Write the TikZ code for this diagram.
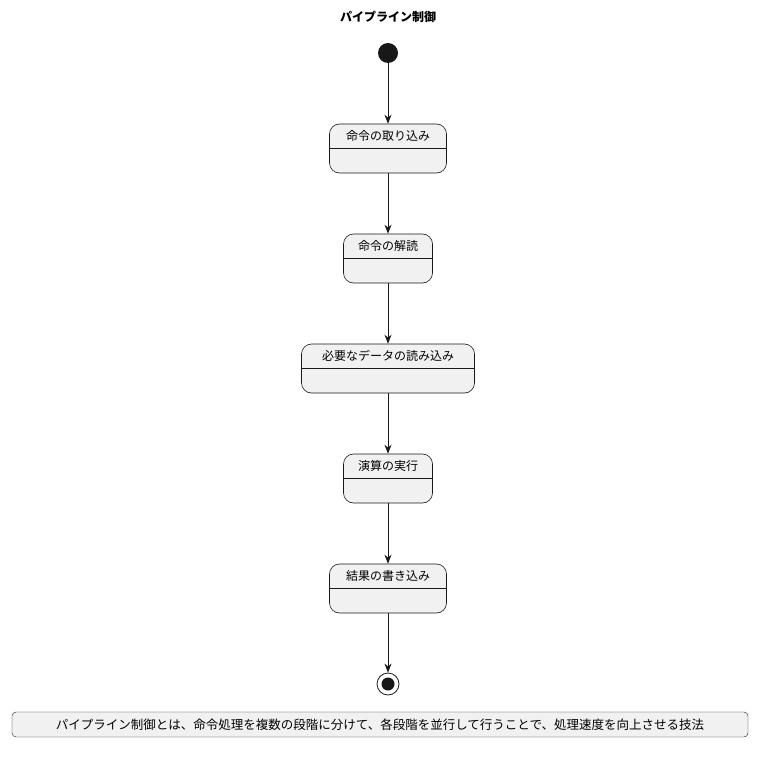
\documentclass[tikz,border=0pt]{standalone}
\usepackage{fontspec}
\setmainfont{Noto Sans CJK JP}
\usetikzlibrary{calc,arrows.meta}
\definecolor{sfill}{HTML}{F1F1F1}
\definecolor{sline}{HTML}{181818}
\begin{document}
\begin{tikzpicture}[x=1pt,y=-1pt,
  st/.style={draw=sline,fill=sfill,rounded corners=10pt,minimum height=49pt,inner sep=0pt,line width=0.6pt},
  lbl/.style={font=\fontsize{12}{14}\selectfont,inner sep=0pt},
  arr/.style={draw=sline,line width=0.8pt,-{Stealth[length=9pt,width=7pt]}}]
\useasboundingbox (0,0) rectangle (768,757);
\node[font=\bfseries\fontsize{12}{14}\selectfont] (title) at (388,17) {パイプライン制御};
\node[circle,fill=sline,minimum size=20pt,inner sep=0pt] (start) at (388,53) {};
\foreach \n/\w/\y/\t in {s1/117/148.5/命令の取り込み, s2/89/258.5/命令の解読, s3/173/368.5/必要なデータの読み込み, s4/89/478.5/演算の実行, s5/117/588.5/結果の書き込み}{
  \node[st,minimum width=\w pt] (\n) at (388,\y) {};
  \draw[sline,line width=0.6pt] ($(\n.north west)+(0,25)$) -- ($(\n.north east)+(0,25)$);
  \node[lbl] (\n t) at ($(\n.north)+(0,12)$) {\t};
}
\node[circle,draw=sline,line width=0.8pt,minimum size=22pt,inner sep=0pt] (end) at (388,684) {};
\node[circle,fill=sline,minimum size=13pt,inner sep=0pt] (endi) at (388,684) {};
\node[draw=sline,fill=sfill,rounded corners=4pt,minimum width=736pt,minimum height=25pt,inner sep=0pt,font=\fontsize{12.5}{14}\selectfont] (note) at (380,724.5) {パイプライン制御とは、命令処理を複数の段階に分けて、各段階を並行して行うことで、処理速度を向上させる技法};
\draw[arr] (start) -- (s1);
\draw[arr] (s1) -- (s2);
\draw[arr] (s2) -- (s3);
\draw[arr] (s3) -- (s4);
\draw[arr] (s4) -- (s5);
\draw[arr] (s5) -- (end);
\end{tikzpicture}
\end{document}
